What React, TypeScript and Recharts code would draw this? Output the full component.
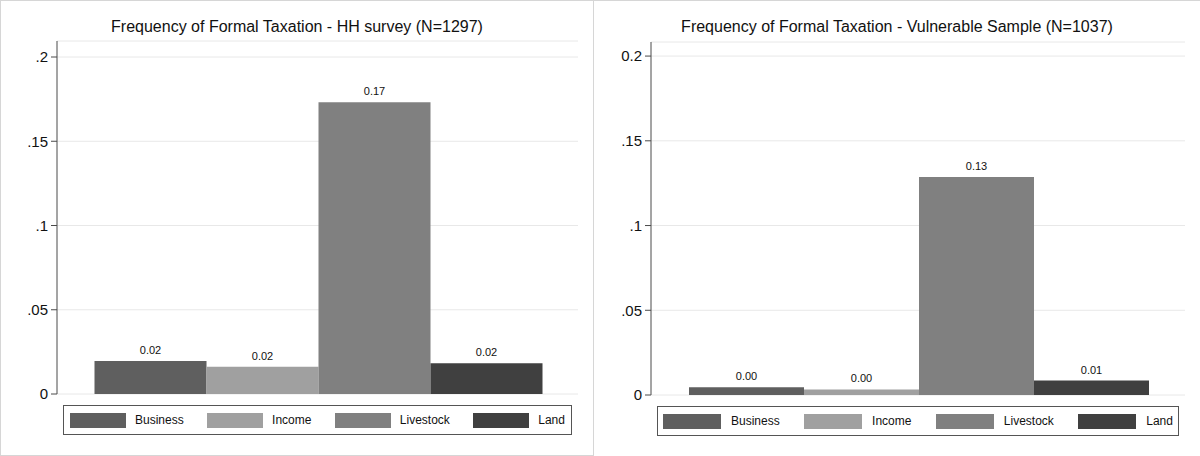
import React from "react";
import { BarChart, Bar, XAxis, YAxis, CartesianGrid, LabelList } from "recharts";

const SERIES = ["Business", "Income", "Livestock", "Land"];
const SERIES_KEYS = ["business", "income", "livestock", "land"];
const COLORS = ["#5f5f5f", "#a0a0a0", "#808080", "#404040"];
const HH_VALUES = [0.0196, 0.0162, 0.1731, 0.0183];
const VULN_VALUES = [0.0046, 0.0033, 0.1286, 0.0085];
const TICK_VALUES = [0, 0.05, 0.1, 0.15, 0.2];
const LEFT_TICK_LABELS = ["0", ".05", ".1", ".15", ".2"];
const RIGHT_TICK_LABELS = ["0", ".05", ".1", ".15", "0.2"];
const LEFT_TITLE = "Frequency of Formal Taxation - HH survey (N=1297)";
const RIGHT_TITLE = "Frequency of Formal Taxation - Vulnerable Sample (N=1037)";

const FONT = '"Liberation Sans", Arial, Helvetica, sans-serif';
const H = 456;

type LegendGeom = { x: number; y: number; w: number; h: number; sw: number; gap: number; pad: number };

type PanelProps = {
  x: number;
  width: number;
  title: string;
  values: number[];
  tickLabels: string[];
  domainMax: number;
  plotTop: number;
  plotBottom: number;
  plotRight: number;
  catGap: number;
  legend: LegendGeom;
};

function Panel(p: PanelProps) {
  const row: Record<string, any> = { name: "all" };
  SERIES_KEYS.forEach((k, i) => {
    row[k] = p.values[i];
  });
  const data = [row];
  return (
    <div style={{ position: "absolute", left: p.x, top: 0, width: p.width, height: H }}>
      <div
        style={{
          position: "absolute",
          left: 0,
          top: 19,
          width: p.width,
          textAlign: "center",
          fontFamily: FONT,
          fontSize: 16,
          lineHeight: "16px",
          color: "#111",
          whiteSpace: "nowrap",
        }}
      >
        {p.title}
      </div>
      <div style={{ position: "absolute", left: 0, top: 0 }}>
        <BarChart
          width={p.width}
          height={H}
          data={data}
          margin={{ top: p.plotTop, right: p.width - p.plotRight, bottom: H - p.plotBottom, left: 0 }}
          barGap={0}
          barCategoryGap={p.catGap}
        >
          <CartesianGrid vertical={false} stroke="#e8e8e8" />
          <XAxis
            dataKey="name"
            tick={false}
            tickLine={false}
            height={0}
            axisLine={{ stroke: "#4a4a4a" }}
          />
          <YAxis
            width={57}
            domain={[0, p.domainMax]}
            ticks={TICK_VALUES}
            interval={0}
            allowDataOverflow
            tickFormatter={(v: number) => p.tickLabels[TICK_VALUES.indexOf(v)] ?? String(v)}
            tick={{ fill: "#111", fontSize: 15, fontFamily: FONT }}
            tickLine={{ stroke: "#4a4a4a" }}
            tickSize={6}
            tickMargin={3}
            axisLine={{ stroke: "#4a4a4a" }}
          />
          {SERIES_KEYS.map((k, i) => (
            <Bar key={k} dataKey={k} name={SERIES[i]} fill={COLORS[i]} isAnimationActive={false}>
              <LabelList
                dataKey={k}
                position="top"
                offset={7}
                formatter={(v: any) => Number(v).toFixed(2)}
                fontSize={11}
                fill="#111"
                fontFamily={FONT}
              />
            </Bar>
          ))}
        </BarChart>
      </div>
      <div
        style={{
          position: "absolute",
          left: p.legend.x,
          top: p.legend.y,
          width: p.legend.w,
          height: p.legend.h,
          boxSizing: "border-box",
          border: "1px solid #555",
          background: "#fff",
          display: "flex",
          alignItems: "center",
          justifyContent: "space-between",
          padding: `0 ${p.legend.pad}px`,
          fontFamily: FONT,
        }}
      >
        {SERIES.map((s, i) => (
          <div key={s} style={{ display: "flex", alignItems: "center" }}>
            <div style={{ width: p.legend.sw, height: 15, background: COLORS[i], marginRight: p.legend.gap }} />
            <span style={{ fontSize: 12, color: "#111", lineHeight: "15px" }}>{s}</span>
          </div>
        ))}
      </div>
    </div>
  );
}

export default function App() {
  return (
    <div style={{ position: "absolute", left: 0, top: 0, width: 1200, height: H, background: "#fff", overflow: "hidden" }}>
      <div
        style={{
          position: "absolute",
          left: 0,
          top: 0,
          width: 594,
          height: H,
          boxSizing: "border-box",
          border: "1px solid #d6d6d6",
        }}
      />
      <div
        style={{
          position: "absolute",
          left: 594,
          top: 0,
          width: 606,
          height: H,
          boxSizing: "border-box",
          borderTop: "1px solid #d6d6d6",
        }}
      />
      <Panel
        x={0}
        width={594}
        title={LEFT_TITLE}
        values={HH_VALUES}
        tickLabels={LEFT_TICK_LABELS}
        domainMax={0.2095}
        plotTop={41}
        plotBottom={394}
        plotRight={578}
        catGap={37.5}
        legend={{ x: 63, y: 405, w: 509, h: 30, sw: 56, gap: 9, pad: 6 }}
      />
      <Panel
        x={594}
        width={606}
        title={RIGHT_TITLE}
        values={VULN_VALUES}
        tickLabels={RIGHT_TICK_LABELS}
        domainMax={0.2083}
        plotTop={42}
        plotBottom={395}
        plotRight={591}
        catGap={38}
        legend={{ x: 63, y: 406, w: 522, h: 30, sw: 58, gap: 10, pad: 5 }}
      />
    </div>
  );
}
